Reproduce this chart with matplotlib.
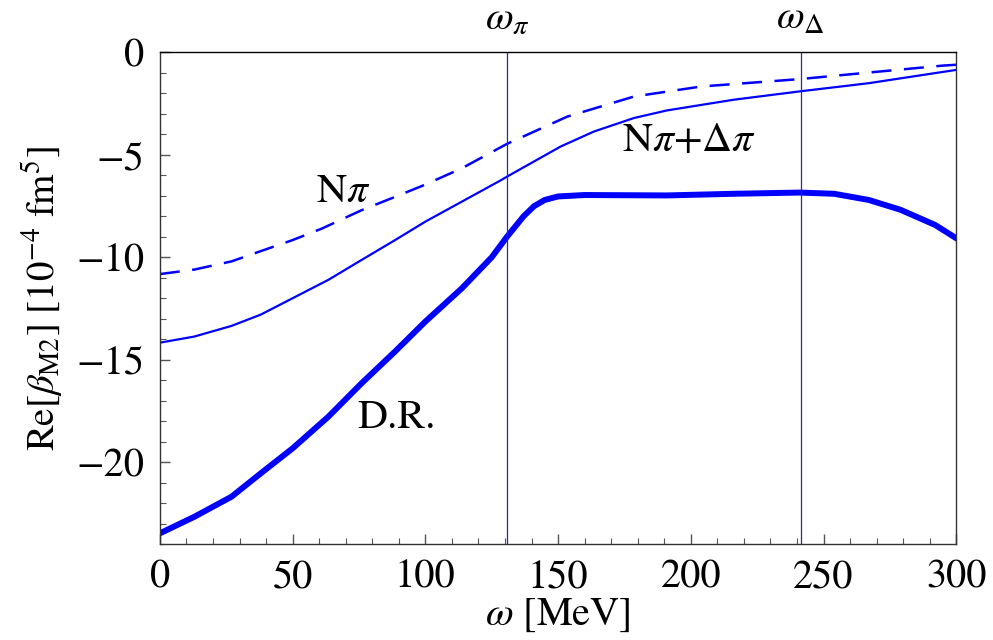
import numpy as np
import matplotlib
matplotlib.use('Agg')
import matplotlib.pyplot as plt
from matplotlib.ticker import MultipleLocator
from matplotlib.transforms import blended_transform_factory

plt.rcParams['font.family'] = ['STIXGeneral', 'DejaVu Serif']
plt.rcParams['mathtext.fontset'] = 'stix'

# D.R. (thick)
w_dr = [0, 13, 27, 38, 50, 63.5, 76, 88.6, 100, 113.8, 125, 130.8, 137, 141, 145,
        150, 160, 175, 191, 216, 241, 254, 267, 279, 292, 300]
beta_dr = [-23.48, -22.67, -21.69, -20.55, -19.33, -17.78, -16.15, -14.6, -13.14,
           -11.51, -10.0, -8.99, -8.0, -7.5, -7.2, -7.03, -6.96, -6.97, -6.98,
           -6.9, -6.84, -6.9, -7.2, -7.68, -8.42, -9.07]

# N pi + Delta pi (thin solid)
w_nd = [0, 13, 27, 38, 50, 63.5, 76, 88.6, 100, 113.8, 128.3, 130.8, 151, 163.5,
        178.6, 191, 216, 241, 267, 300]
beta_nd = [-14.17, -13.87, -13.35, -12.8, -12.0, -11.1, -10.13, -9.16, -8.26,
           -7.28, -6.25, -6.06, -4.59, -3.86, -3.2, -2.83, -2.31, -1.9, -1.5, -0.85]

# N pi (dashed)
w_n = [0, 13, 27, 38, 50, 61, 76, 88.6, 100, 113.8, 130.8, 153.5, 178.6, 204,
       241, 267, 295, 300]
beta_n = [-10.82, -10.6, -10.2, -9.7, -9.16, -8.6, -7.7, -7.05, -6.45, -5.65,
          -4.46, -3.13, -2.15, -1.66, -1.3, -0.98, -0.64, -0.6]

w_marks = [130.8, 241.4]
mark_labels = [r'$\omega_\pi$', r'$\omega_\Delta$']

fig = plt.figure(figsize=(9.93, 6.4), dpi=100)
ax = fig.add_axes([0.161, 0.15, 0.802, 0.768])

blue = (0, 0, 1)
ax.plot(w_dr, beta_dr, color=blue, lw=4.3, solid_joinstyle='round')
ax.plot(w_nd, beta_nd, color=blue, lw=1.6)
ax.plot(w_n, beta_n, color=blue, lw=1.8, dashes=(8, 5))

trans = blended_transform_factory(ax.transData, ax.transAxes)
for w, lab in zip(w_marks, mark_labels):
    ax.axvline(w, color='#2828a0', lw=0.9)
    ax.text(w, 1.03, lab, transform=trans, ha='center', va='bottom', fontsize=29)

ax.text(69, -6.85, r'N$\pi$', ha='center', va='center', fontsize=30)
ax.text(89.3, -17.86, 'D.R.', ha='center', va='center', fontsize=30)
ax.text(199.4, -4.35, r'N$\pi$+$\Delta\pi$', ha='center', va='center', fontsize=30)

ax.set_xlim(0, 300)
ax.set_ylim(-24, 0)
ax.xaxis.set_major_locator(MultipleLocator(50))
ax.xaxis.set_minor_locator(MultipleLocator(10))
ax.yaxis.set_major_locator(MultipleLocator(5))
ax.yaxis.set_minor_locator(MultipleLocator(1))
ax.tick_params(which='both', direction='in', top=False, right=False,
               labelsize=29, color='#555555')
ax.tick_params(which='major', length=7, width=1.0, pad=11)
ax.tick_params(which='minor', length=4, width=0.8)
for s in ax.spines.values():
    s.set_linewidth(1.0)
    s.set_color('#333333')
ax.spines['top'].set_color('black')

ax.set_xlabel(r'$\omega$ [MeV]', fontsize=29, labelpad=0)
ax.set_ylabel(r'Re[$\beta_{\mathrm{M2}}$] [10$^{-4}$ fm$^5$]', fontsize=28, labelpad=8)

fig.savefig('out.png', dpi=100)
